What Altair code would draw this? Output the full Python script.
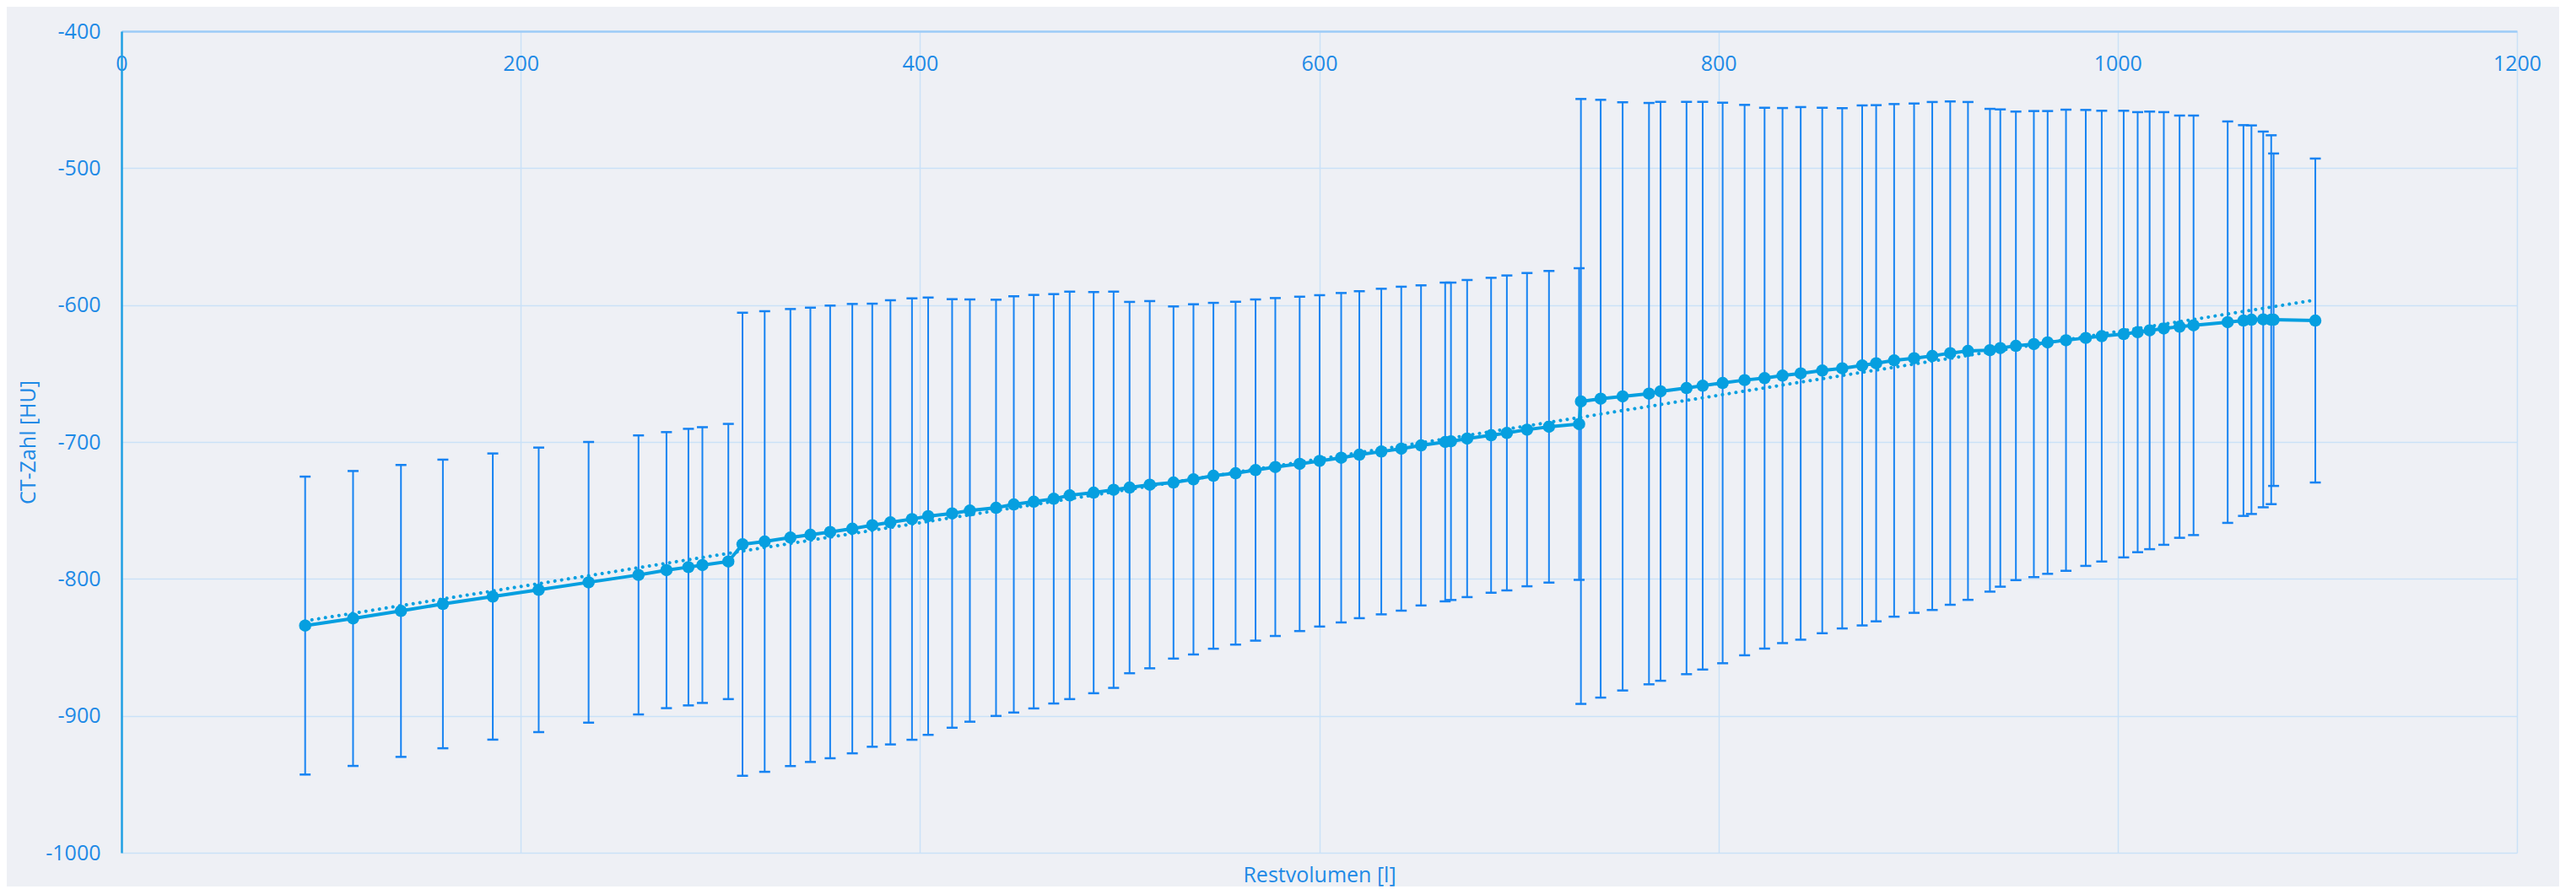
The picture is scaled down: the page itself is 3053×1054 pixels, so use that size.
import altair as alt
import pandas as pd

# Restvolumen [l]
x_vals = [
    92, 116, 140, 161, 186, 209, 234, 259, 273, 284, 291, 304,
    311.1, 322.2, 335.1, 345.1, 355.0, 366.1, 376.1, 385.2, 396.0, 404.1,
    416.1, 425.0, 438.1, 447.0, 457.0, 467.0, 475.0, 487.0, 497.0, 505.0,
    515.1, 527.0, 537.0, 547.0, 558.1, 568.1, 578.0, 590.2, 600.2, 611.0,
    620.1, 631.1, 641.1, 651.0, 663.1, 666.0, 674.1, 686.1, 694.0, 704.1,
    715.1, 730.2,
    731.1, 741.0, 752.0, 765.2, 771.0, 784.0, 792.1, 802.1, 813.1, 823.1,
    832.1, 841.2, 852.0, 862.0, 872.0, 879.0, 888.0, 898.0, 907.1, 916.1,
    925.0, 936.0, 941.2, 949.0, 958.0, 964.9, 974.1, 984.0, 992.0, 1003.0,
    1010.0, 1016.0, 1023.1, 1031.0, 1038.0, 1055.1, 1063.0, 1067.0, 1072.9,
    1076.9, 1078.1, 1099.0,
]

# CT-Zahl [HU] (mean)
y_mean = [
    -834.1, -828.9, -823.4, -818.3, -812.9, -808.0, -802.5, -797.1, -793.6, -791.4, -789.9, -787.3,
    -774.7, -772.7, -769.8, -767.8, -765.7, -763.3, -760.8, -758.7, -756.3, -754.2,
    -752.2, -750.1, -748.1, -745.6, -743.6, -741.5, -739.0, -737.0, -734.9, -733.3,
    -731.2, -729.6, -727.3, -724.7, -722.8, -720.5, -718.3, -716.0, -713.8, -711.5,
    -709.3, -707.0, -704.9, -702.5, -700.0, -699.5, -697.5, -695.1, -693.4, -691.0,
    -688.9, -686.9,
    -670.4, -668.4, -666.7, -664.7, -663.0, -660.6, -658.9, -656.9, -654.8, -653.4,
    -651.5, -649.9, -647.8, -646.2, -644.1, -642.5, -640.4, -638.8, -637.2, -635.1,
    -633.5, -633.0, -631.4, -629.8, -628.5, -627.3, -625.7, -624.0, -622.7, -621.2,
    -619.8, -618.5, -617.1, -615.8, -614.8, -612.5, -611.3, -610.7, -610.5,
    -610.7, -610.7, -611.3,
]

# standard deviation (half length of the error bars)
y_std = [
    108.8, 107.7, 106.6, 105.4, 104.5, 103.9, 102.5, 101.9, 100.8, 101.0, 100.7, 100.5,
    169.1, 168.2, 166.9, 165.9, 165.3, 164.1, 161.8, 162.2, 161.2, 159.7,
    156.5, 154.2, 152.0, 152.0, 151.0, 149.5, 148.8, 146.5, 144.7, 135.6,
    134.1, 128.6, 127.9, 126.3, 125.2, 124.6, 123.4, 122.1, 121.0, 120.3,
    119.4, 118.9, 118.3, 116.9, 116.4, 115.9, 115.8, 115.0, 115.0, 114.4,
    113.8, 113.8,
    220.9, 218.3, 214.8, 212.3, 211.4, 209.0, 207.3, 204.7, 201.0, 197.5,
    195.4, 194.5, 191.9, 190.0, 189.9, 188.5, 187.2, 186.0, 185.5, 183.8,
    181.8, 176.3, 174.3, 171.1, 170.2, 169.0, 168.4, 166.5, 164.6, 163.1,
    160.7, 159.8, 158.0, 154.2, 153.2, 146.6, 142.7, 141.9, 137.2,
    134.7, 121.4, 118.3,
]

# dotted trend line (end points)
trend_x = [92, 1099]
trend_y = [-830.7, -596.3]

x_ticks = [0, 200, 400, 600, 800, 1000, 1200]
y_ticks = [-1000, -900, -800, -700, -600, -500, -400]

df = pd.DataFrame({"x": x_vals, "y": y_mean, "sd": y_std})
df["lo"] = df["y"] - df["sd"]
df["hi"] = df["y"] + df["sd"]
trend_df = pd.DataFrame({"x": trend_x, "y": trend_y})

W, H = 2839, 974
FONT = "Open Sans"
FS = 25
TXT = "#1e8ae6"
PT = "#069fe0"
ERR = "#1683f2"
GRID = "#cae1f8"

xs = alt.Scale(domain=[0, 1200], nice=False, zero=False)
ys = alt.Scale(domain=[-1000, -400], nice=False, zero=False)

x_axis = alt.Axis(
    orient="top", values=x_ticks, title="Restvolumen [l]",
    labelExpr="'' + datum.value",
    titleX=W / 2, titleY=1008, titleBaseline="alphabetic", titleAlign="center",
    titleFont=FONT, titleFontSize=FS, titleFontWeight="normal", titleColor=TXT,
    labelFont=FONT, labelFontSize=FS, labelColor=TXT, labelBaseline="alphabetic",
    labelPadding=-46, ticks=False, tickSize=0, labelFlush=False,
    domain=True, domainColor="#9dcbf7", domainWidth=2.5,
    grid=True, gridColor=GRID, gridWidth=1.5,
)
y_axis = alt.Axis(
    orient="left", values=y_ticks, title="CT-Zahl [HU]",
    labelExpr="'' + datum.value",
    titleX=-111, titleY=H / 2, titleBaseline="middle", titleAlign="center", titleAngle=270,
    titleFont=FONT, titleFontSize=FS, titleFontWeight="normal", titleColor=TXT,
    labelFont=FONT, labelFontSize=FS, labelColor=TXT, labelPadding=25,
    ticks=False, tickSize=0, labelFlush=False,
    domain=True, domainColor="#1f9fe3", domainWidth=2.5,
    grid=True, gridColor=GRID, gridWidth=1.5,
)

bars = alt.Chart(df).mark_rule(color=ERR, strokeWidth=2).encode(
    x=alt.X("x:Q", scale=xs, axis=x_axis),
    y=alt.Y("lo:Q", scale=ys, axis=y_axis),
    y2="hi:Q",
)

caps = alt.Chart(df).transform_fold(["lo", "hi"], as_=["k", "v"]).mark_tick(
    orient="horizontal", size=13, thickness=2.5, color=ERR, opacity=1
).encode(x=alt.X("x:Q", scale=xs), y=alt.Y("v:Q", scale=ys))

trend = alt.Chart(trend_df).mark_line(
    color=PT, strokeWidth=4, strokeDash=[0.1, 8], strokeCap="round"
).encode(x=alt.X("x:Q", scale=xs), y=alt.Y("y:Q", scale=ys))

line = alt.Chart(df).mark_line(color=PT, strokeWidth=4).encode(
    x=alt.X("x:Q", scale=xs), y=alt.Y("y:Q", scale=ys), order="x:Q"
)

pts = alt.Chart(df).mark_circle(color=PT, size=210, opacity=1).encode(
    x=alt.X("x:Q", scale=xs), y=alt.Y("y:Q", scale=ys)
)

chart = alt.layer(bars, caps, trend, line, pts).properties(
    width=W, height=H,
    autosize=alt.AutoSizeParams(type="none"),
    padding={"left": 136, "top": 29, "right": 50, "bottom": 40},
    background="#eef0f5",
).configure_view(stroke=None)

chart.save("out.html", embed_options={"renderer": "svg", "actions": False})
